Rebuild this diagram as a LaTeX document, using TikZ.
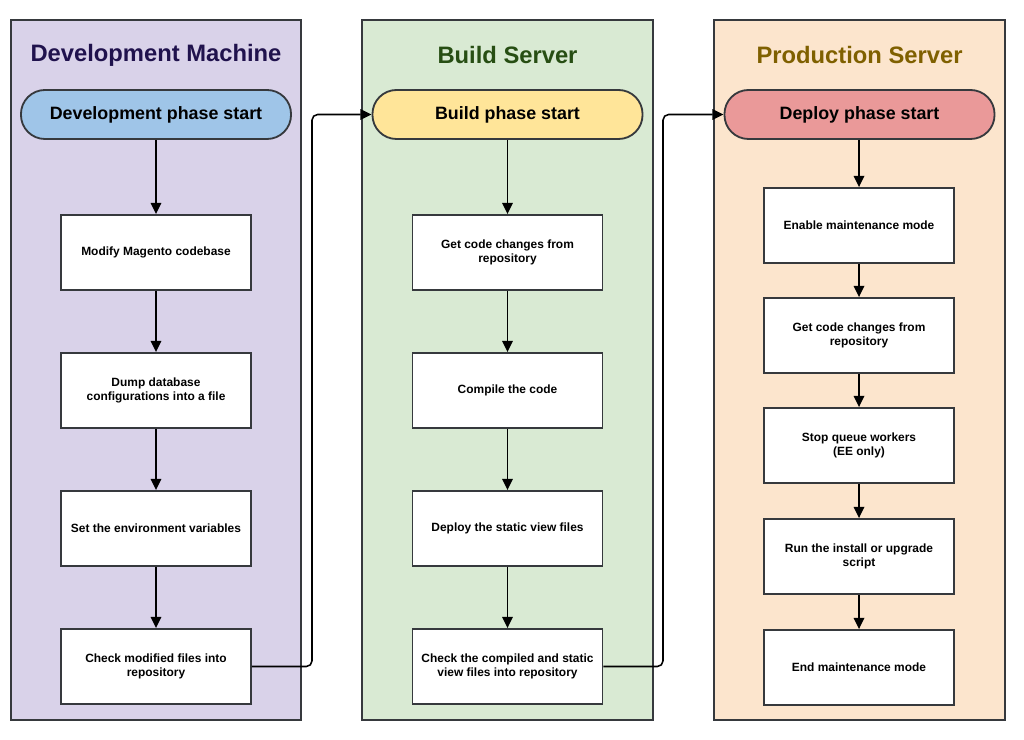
\documentclass[tikz,border=0pt]{standalone}
\usepackage{fontspec}
\setmainfont{Liberation Sans}
\usetikzlibrary{arrows.meta}

\definecolor{devfill}{HTML}{D9D2E9}
\definecolor{buildfill}{HTML}{D9EAD3}
\definecolor{prodfill}{HTML}{FCE5CD}
\definecolor{devtitle}{HTML}{20124D}
\definecolor{buildtitle}{HTML}{274E13}
\definecolor{prodtitle}{HTML}{7F6000}
\definecolor{devstart}{HTML}{9FC5E8}
\definecolor{buildstart}{HTML}{FFE599}
\definecolor{prodstart}{HTML}{EA9999}
\definecolor{edge}{HTML}{36393D}

\begin{document}
\begin{tikzpicture}[x=0.025cm, y=-0.025cm,
    lane/.style={draw=edge, line width=1.4pt, minimum width=7.25cm, minimum height=17.5cm, inner sep=0pt},
    lanetitle/.style={font=\fontsize{16.9}{20}\selectfont\bfseries},
    phase/.style={draw=edge, line width=1.3pt, rounded corners=0.6cm, minimum width=6.75cm, minimum height=1.225cm, font=\fontsize{12.7}{15}\selectfont\bfseries},
    stepbox/.style={draw=edge, fill=white, line width=1.3pt, minimum width=4.75cm, minimum height=1.875cm, align=center, font=\fontsize{8.5}{10}\selectfont\bfseries},
    flow/.style={-{Triangle[length=8pt, width=7.5pt]}, line width=1.1pt, black}]
    \useasboundingbox (0,0) rectangle (1024,740);

    % Lanes
    \node[lane, fill=devfill] (dev) at (156,370) {};
    \node[lane, fill=buildfill] (build) at (507.5,370) {};
    \node[lane, fill=prodfill] (prod) at (859.5,370) {};
    \node[lanetitle, devtitle] (devt) at (156,55) {Development Machine};
    \node[lanetitle, buildtitle] (buildt) at (507.5,55) {Build Server};
    \node[lanetitle, prodtitle] (prodt) at (859.5,55) {Production Server};

    % Start nodes
    \node[phase, fill=devstart] (ds) at (156,114.5) {Development phase start};
    \node[phase, fill=buildstart] (bs) at (507.5,114.5) {Build phase start};
    \node[phase, fill=prodstart] (ps) at (859.5,114.5) {Deploy phase start};

    % Development steps
    \node[stepbox] (d1) at (156,252.5) {Modify Magento codebase};
    \node[stepbox] (d2) at (156,390.5) {Dump database\\configurations into a file};
    \node[stepbox] (d3) at (156,528.5) {Set the environment variables};
    \node[stepbox] (d4) at (156,666.5) {Check modified files into\\repository};

    % Build steps
    \node[stepbox] (b1) at (507.5,252.5) {Get code changes from\\repository};
    \node[stepbox] (b2) at (507.5,390.5) {Compile the code};
    \node[stepbox] (b3) at (507.5,528.5) {Deploy the static view files};
    \node[stepbox] (b4) at (507.5,666.5) {Check the compiled and static\\view files into repository};

    % Deploy steps
    \node[stepbox] (p1) at (859,225.5) {Enable maintenance mode};
    \node[stepbox] (p2) at (859,335.5) {Get code changes from\\repository};
    \node[stepbox] (p3) at (859,445.5) {Stop queue workers\\(EE only)};
    \node[stepbox] (p4) at (859,556.5) {Run the install or upgrade\\script};
    \node[stepbox] (p5) at (859,667.5) {End maintenance mode};

    % Arrows
    \draw[flow] (ds) -- (d1);
    \draw[flow] (d1) -- (d2);
    \draw[flow] (d2) -- (d3);
    \draw[flow] (d3) -- (d4);
    \draw[flow] (bs) -- (b1);
    \draw[flow] (b1) -- (b2);
    \draw[flow] (b2) -- (b3);
    \draw[flow] (b3) -- (b4);
    \draw[flow] (ps.south -| p1.north) -- (p1);
    \draw[flow] (p1) -- (p2);
    \draw[flow] (p2) -- (p3);
    \draw[flow] (p3) -- (p4);
    \draw[flow] (p4) -- (p5);

    % Hand-over between lanes
    \coordinate (j1) at (312,390);
    \coordinate (j2) at (663,390);
    \draw[flow, rounded corners=4pt] (d4.east) -| (j1) |- (bs.west);
    \draw[flow, rounded corners=4pt] (b4.east) -| (j2) |- (ps.west);
\end{tikzpicture}
\end{document}
